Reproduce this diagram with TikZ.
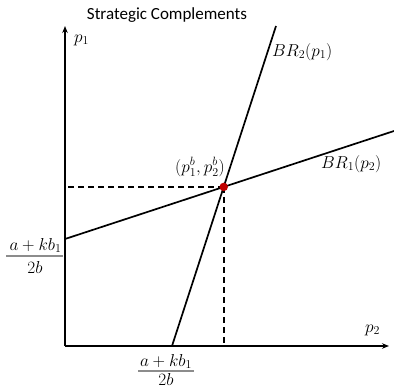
\documentclass[tikz,border=0pt]{standalone}
\usepackage{amsmath}
\usepackage{fontspec}
\newfontfamily\calib{Carlito}
\usetikzlibrary{arrows.meta}
\definecolor{dotred}{HTML}{C00000}
\definecolor{bargray}{HTML}{8C8C8C}
\tikzset{
  axis/.style={line width=1.7pt,-{Stealth[length=7pt,width=5.5pt]}},
  brline/.style={line width=1.7pt},
  guide/.style={line width=1.7pt,dash pattern=on 6pt off 4pt},
  lbl/.style={inner sep=0pt,font=\fontsize{17}{20}\selectfont},
  fbar/.style={bargray,line width=1.1pt},
  eqdot/.style={circle,fill=dotred,inner sep=0pt,minimum size=8.5pt}
}
\begin{document}
\begin{tikzpicture}[x=1pt,y=-1pt]
\useasboundingbox (0,0) rectangle (394,388);
\coordinate (O) at (65,346);
\coordinate (ytop) at (65,26);
\coordinate (xend) at (389,346);
\coordinate (b1s) at (65,239);
\coordinate (b1e) at (394,131);
\coordinate (b2s) at (172,346);
\coordinate (b2e) at (276,26);
\coordinate (E) at (intersection of b1s--b1e and b2s--b2e);
\coordinate (hl) at (68,187);
\coordinate (vb) at (224,344);
\draw[axis] (O) -- (ytop);
\draw[axis] (O) -- (xend);
\draw[brline] (b1s) -- (b1e);
\draw[brline] (b2s) -- (b2e);
\draw[guide] (hl) -- (hl -| E) -- (E);
\draw[guide] (E) -- (E |- vb);
\node[eqdot] (dot) at (E) {};
\node[inner sep=0pt,font=\calib\fontsize{17}{20}\selectfont] (title) at (167,15) {Strategic Complements};
\node[lbl,anchor=west] (p1) at (74,40) {$p_1$};
\node[lbl,anchor=west] (p2) at (365,330) {$p_2$};
\node[lbl,anchor=west] (br2) at (272,52) {$BR_2(p_1)$};
\node[lbl,anchor=west] (br1) at (321,164) {$BR_1(p_2)$};
\node[lbl,anchor=east] (eq) at (225,167) {$(p_1^b,p_2^b)$};
% left fraction
\node[lbl,anchor=base] (fln) at (35.5,250) {$a+kb_1$};
\node[lbl,anchor=base] (fld) at (35,273) {$2b$};
\coordinate (flbl) at (6,256);
\coordinate (flbr) at (63,256);
\draw[fbar] (flbl) -- (flbr);
% bottom fraction
\node[lbl,anchor=base] (fbn) at (166,366) {$a+kb_1$};
\node[lbl,anchor=base] (fbd) at (166,385) {$2b$};
\coordinate (fbbl) at (138,371);
\coordinate (fbbr) at (194,371);
\draw[fbar] (fbbl) -- (fbbr);
\end{tikzpicture}
\end{document}
